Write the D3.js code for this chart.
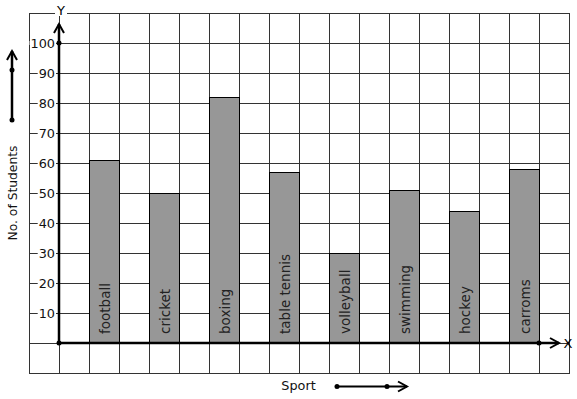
<!DOCTYPE html>
<html>
<head>
<meta charset="utf-8">
<script src="https://cdn.jsdelivr.net/npm/d3@7"></script>
<style>
  html, body { margin: 0; padding: 0; background: #fff; }
  svg { display: block; font-family: "DejaVu Sans", sans-serif; }
</style>
</head>
<body>
<div id="chart"></div>
<script>
// ── Data ─────────────────────────────────────────────
const sports   = ["football", "cricket", "boxing", "table tennis", "volleyball", "swimming", "hockey", "carroms"];
const students = [61, 50, 82, 57, 30, 51, 44, 58];
const yTicks   = [10, 20, 30, 40, 50, 60, 70, 80, 90, 100];

const W = 577, H = 399;
const GRID = { left: 29, right: 569, top: 13, bottom: 373, cell: 30 };
const ORIGIN_X = 59;

const svg = d3.select("#chart").append("svg").attr("width", W).attr("height", H);

const y = d3.scaleLinear().domain([-10, 110]).range([GRID.bottom, GRID.top]);
const x = d3.scaleBand().domain(sports).range([74, 554]).paddingInner(0.5).paddingOuter(0.25);

// Grid
const grid = svg.append("g").attr("stroke", "#333").attr("stroke-width", 1).attr("shape-rendering", "crispEdges");
d3.range(GRID.left, GRID.right + 1, GRID.cell).forEach(gx => {
  grid.append("line").attr("x1", gx + 0.5).attr("x2", gx + 0.5).attr("y1", GRID.top).attr("y2", GRID.bottom);
});
d3.range(-10, 111, 10).forEach(v => {
  grid.append("line").attr("x1", GRID.left).attr("x2", GRID.right + 1).attr("y1", y(v) + 0.5).attr("y2", y(v) + 0.5);
});

// Bars
svg.selectAll(".bar").data(sports).join("rect")
  .attr("class", "bar")
  .attr("x", d => x(d) + 0.5)
  .attr("y", (d, i) => y(students[i]) + 0.5)
  .attr("width", x.bandwidth())
  .attr("height", (d, i) => y(0) - y(students[i]))
  .attr("fill", "#979797").attr("stroke", "#000").attr("stroke-width", 1)
  .attr("shape-rendering", "crispEdges");

// Bar labels
svg.selectAll(".blabel").data(sports).join("text")
  .attr("class", "blabel")
  .attr("transform", d => `translate(${x(d) + x.bandwidth() / 2 + 6},${y(0) - 9}) rotate(-90)`)
  .attr("font-size", 13.5).attr("fill", "#222")
  .text(d => d);

// Y tick labels with white backing
const ticks = svg.append("g");
yTicks.forEach(v => {
  const t = ticks.append("text")
    .attr("x", ORIGIN_X - 4).attr("y", y(v) + 4.5)
    .attr("text-anchor", "end").attr("font-size", 12.8).attr("fill", "#111")
    .text(v);
  const b = t.node().getBBox();
  ticks.insert("rect", "text")
    .attr("x", b.x - 1).attr("y", y(v) - 2).attr("width", b.width + 2).attr("height", 4)
    .attr("fill", "#fff");
});

// Axes
function arrowHead(g, tx, ty, dir) {
  const pts = dir === "up"
    ? [[tx - 5, ty + 9], [tx, ty], [tx + 5, ty + 9]]
    : [[tx - 9, ty - 5], [tx, ty], [tx - 9, ty + 5]];
  g.append("path").attr("d", d3.line()(pts))
    .attr("fill", "none").attr("stroke", "#000").attr("stroke-width", 2);
}

const axes = svg.append("g");
axes.append("line").attr("x1", ORIGIN_X).attr("x2", ORIGIN_X).attr("y1", y(0)).attr("y2", 24)
  .attr("stroke", "#000").attr("stroke-width", 2.5);
arrowHead(axes, ORIGIN_X, 24, "up");
axes.append("line").attr("x1", ORIGIN_X).attr("x2", 559).attr("y1", y(0)).attr("y2", y(0))
  .attr("stroke", "#000").attr("stroke-width", 2.5);
arrowHead(axes, 559, y(0), "right");
axes.append("circle").attr("cx", ORIGIN_X).attr("cy", y(100)).attr("r", 2.5).attr("fill", "#000");
axes.append("circle").attr("cx", ORIGIN_X).attr("cy", y(0)).attr("r", 2.5).attr("fill", "#000");
axes.append("circle").attr("cx", 539).attr("cy", y(0)).attr("r", 2.5).attr("fill", "#000");

// Axis letters
axes.append("rect").attr("x", 55).attr("y", 10).attr("width", 12).attr("height", 6).attr("fill", "#fff");
axes.append("text").attr("x", 61).attr("y", 15).attr("text-anchor", "middle").attr("font-size", 13).text("Y");
axes.append("text").attr("x", 568).attr("y", 347.5).attr("text-anchor", "middle").attr("font-size", 13).text("X");

// Y title + arrow
svg.append("text")
  .attr("transform", "translate(17,193) rotate(-90)")
  .attr("text-anchor", "middle").attr("font-size", 12.3).attr("fill", "#111")
  .text("No. of Students");
const ya = svg.append("g");
ya.append("line").attr("x1", 12).attr("x2", 12).attr("y1", 120).attr("y2", 51)
  .attr("stroke", "#000").attr("stroke-width", 2.5);
arrowHead(ya, 12, 51, "up");
ya.append("circle").attr("cx", 12).attr("cy", 70).attr("r", 2.5).attr("fill", "#000");
ya.append("circle").attr("cx", 12).attr("cy", 120).attr("r", 2.5).attr("fill", "#000");

// X title + arrow
svg.append("text")
  .attr("x", 298.5).attr("y", 389.5)
  .attr("text-anchor", "middle").attr("font-size", 12.8).attr("fill", "#111")
  .text("Sport");
const xa = svg.append("g");
xa.append("line").attr("x1", 337).attr("x2", 407).attr("y1", 386.5).attr("y2", 386.5)
  .attr("stroke", "#000").attr("stroke-width", 2);
arrowHead(xa, 407, 386.5, "right");
xa.append("circle").attr("cx", 337).attr("cy", 386.5).attr("r", 2.5).attr("fill", "#000");
xa.append("circle").attr("cx", 387).attr("cy", 386.5).attr("r", 2.5).attr("fill", "#000");
</script>
</body>
</html>
